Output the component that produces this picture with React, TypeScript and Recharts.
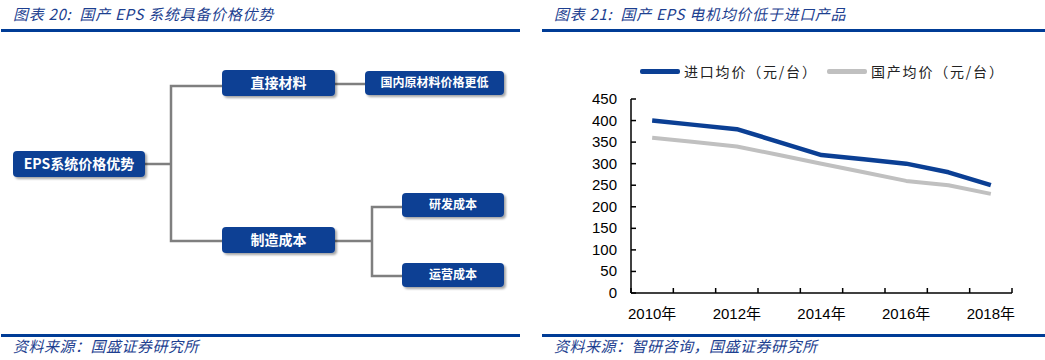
import React from "react";
import { LineChart, Line, XAxis, YAxis } from "recharts";

const YEARS = [2010, 2011, 2012, 2013, 2014, 2015, 2016, 2017, 2018];
const IMPORT_PRICE = [400, 390, 380, 350, 320, 310, 300, 280, 250];
const DOMESTIC_PRICE = [360, 350, 340, 320, 300, 280, 260, 250, 230];
const Y_TICKS = [0, 50, 100, 150, 200, 250, 300, 350, 400, 450];
const LABEL_YEARS = [2010, 2012, 2014, 2016, 2018];
const SERIES_NAMES = ["进口均价（元/台）", "国产均价（元/台）"];

const TITLE_LEFT = "图表 20:  国产 EPS 系统具备价格优势";
const TITLE_RIGHT = "图表 21:  国产 EPS 电机均价低于进口产品";
const SOURCE_LEFT = "资料来源：国盛证券研究所";
const SOURCE_RIGHT = "资料来源：智研咨询，国盛证券研究所";

// tree nodes for the left diagram
const NODES = [
  { id: "root", label: "EPS系统价格优势", x: 13, y: 151, w: 132, h: 26, size: 14 },
  { id: "mat", label: "直接材料", x: 222, y: 70, w: 113, h: 26, size: 14 },
  { id: "mfg", label: "制造成本", x: 222, y: 227, w: 113, h: 26, size: 14 },
  { id: "low", label: "国内原材料价格更低", x: 365, y: 71, w: 139, h: 24, size: 12 },
  { id: "rd", label: "研发成本", x: 402, y: 193, w: 102, h: 24, size: 12 },
  { id: "ops", label: "运营成本", x: 402, y: 263, w: 102, h: 24, size: 12 },
];

const BLUE = "#0b3f94";
const RULE = "#003c96";
const GRAY_LINE = "#c0c0c0";
const CONNECT = "#7f7f7f";
const NUM_FONT = "'Liberation Sans', 'Noto Sans CJK SC', sans-serif";
const CJK_FONT = "'Noto Sans CJK SC', sans-serif";

const data = YEARS.map((yr, i) => ({
  year: yr,
  imp: IMPORT_PRICE[i],
  dom: DOMESTIC_PRICE[i],
}));

const boundaries = [...YEARS.map((y) => y - 0.5), YEARS[YEARS.length - 1] + 0.5];
const xTicks = [...boundaries, ...LABEL_YEARS].sort((a, b) => a - b);

function XTick(props: any) {
  const { x, y, payload } = props;
  const v = payload.value as number;
  if (v % 1 !== 0) {
    return <line x1={x} y1={y} x2={x} y2={y - 5} stroke="#000" strokeWidth={1.5} />;
  }
  return (
    <text x={x} y={y + 26} textAnchor="middle" fontSize={15} fill="#000" fontFamily={NUM_FONT}>
      {`${v}年`}
    </text>
  );
}

function YTick(props: any) {
  const { x, y, payload } = props;
  return (
    <g>
      <line x1={x} y1={y} x2={x + 5} y2={y} stroke="#000" strokeWidth={1.5} />
      <text x={x - 14} y={y + 5} textAnchor="end" fontSize={15} fill="#000" fontFamily={NUM_FONT}>
        {payload.value}
      </text>
    </g>
  );
}

function Header({ left, width, text }: { left: number; width: number; text: string }) {
  return (
    <>
      <div
        style={{
          position: "absolute",
          left: left + 12,
          top: 4,
          fontSize: 15,
          fontStyle: "italic",
          color: "#1d3f90",
          fontFamily: CJK_FONT,
          whiteSpace: "pre",
          lineHeight: "20px",
          letterSpacing: 0.7,
        }}
      >
        {text}
      </div>
      <div style={{ position: "absolute", left, top: 29, width, height: 3, background: RULE }} />
    </>
  );
}

function Footer({ left, width, text }: { left: number; width: number; text: string }) {
  return (
    <>
      <div style={{ position: "absolute", left, top: 334, width, height: 3, background: RULE }} />
      <div
        style={{
          position: "absolute",
          left: left + 12,
          top: 337,
          fontSize: 15,
          fontStyle: "italic",
          color: "#1d3f90",
          fontFamily: CJK_FONT,
          lineHeight: "18px",
          letterSpacing: 0.5,
        }}
      >
        {text}
      </div>
    </>
  );
}

function Diagram() {
  const c = { stroke: CONNECT, strokeWidth: 2.5, fill: "none" };
  return (
    <svg width={520} height={360} style={{ position: "absolute", left: 0, top: 0 }}>
      <defs>
        <filter id="sh" x="-10%" y="-20%" width="130%" height="160%">
          <feDropShadow dx={2} dy={2} stdDeviation={1.2} floodColor="#000" floodOpacity={0.35} />
        </filter>
      </defs>
      <polyline points="145,164 171,164" {...c} />
      <polyline points="222,86 171,86 171,241 222,241" {...c} />
      <polyline points="335,84 365,84" {...c} />
      <polyline points="335,241 372,241" {...c} />
      <polyline points="402,207 372,207 372,276 402,276" {...c} />
      {NODES.map((n) => (
        <g key={n.id}>
          <rect x={n.x} y={n.y} width={n.w} height={n.h} rx={4} fill={BLUE} filter="url(#sh)" />
          <text
            x={n.x + n.w / 2}
            y={n.y + n.h / 2 + n.size * 0.36}
            textAnchor="middle"
            fontSize={n.size}
            fontWeight="bold"
            fill="#fff"
            fontFamily={CJK_FONT}
          >
            {n.label}
          </text>
        </g>
      ))}
    </svg>
  );
}

function LegendRow() {
  const items = [
    { name: SERIES_NAMES[0], color: BLUE, x: 640 },
    { name: SERIES_NAMES[1], color: GRAY_LINE, x: 827 },
  ];
  return (
    <>
      {items.map((it) => (
        <div key={it.name}>
          <div
            style={{
              position: "absolute",
              left: it.x,
              top: 69,
              width: 40,
              height: 5,
              borderRadius: 2,
              background: it.color,
            }}
          />
          <div
            style={{
              position: "absolute",
              left: it.x + 44,
              top: 61,
              fontSize: 14,
              lineHeight: "20px",
              color: "#222",
              fontFamily: CJK_FONT,
              letterSpacing: 1.8,
            }}
          >
            {it.name}
          </div>
        </div>
      ))}
    </>
  );
}

export default function App() {
  return (
    <div
      style={{
        position: "absolute",
        left: 0,
        top: 0,
        width: 1045,
        height: 360,
        background: "#fff",
        overflow: "hidden",
      }}
    >
      <Header left={1} width={519} text={TITLE_LEFT} />
      <Header left={542} width={503} text={TITLE_RIGHT} />
      <Diagram />
      <LegendRow />
      <div style={{ position: "absolute", left: 560, top: 40 }}>
        <LineChart
          width={485}
          height={300}
          data={data}
          margin={{ top: 59, right: 33, left: 11, bottom: 17 }}
        >
          <XAxis
            dataKey="year"
            type="number"
            domain={[2009.5, 2018.5]}
            ticks={xTicks}
            interval={0}
            tick={<XTick />}
            tickLine={false}
            tickSize={0}
            tickMargin={0}
            height={30}
            axisLine={{ stroke: "#000", strokeWidth: 1.5 }}
          />
          <YAxis
            type="number"
            domain={[0, 450]}
            ticks={Y_TICKS}
            interval={0}
            tick={<YTick />}
            tickLine={false}
            tickSize={0}
            tickMargin={0}
            width={60}
            axisLine={{ stroke: "#000", strokeWidth: 1.5 }}
          />
          <Line
            dataKey="dom"
            stroke={GRAY_LINE}
            strokeWidth={4}
            dot={false}
            isAnimationActive={false}
            strokeLinejoin="round"
          />
          <Line
            dataKey="imp"
            stroke={BLUE}
            strokeWidth={4.5}
            dot={false}
            isAnimationActive={false}
            strokeLinejoin="round"
          />
        </LineChart>
      </div>
      <Footer left={1} width={519} text={SOURCE_LEFT} />
      <Footer left={542} width={503} text={SOURCE_RIGHT} />
    </div>
  );
}
